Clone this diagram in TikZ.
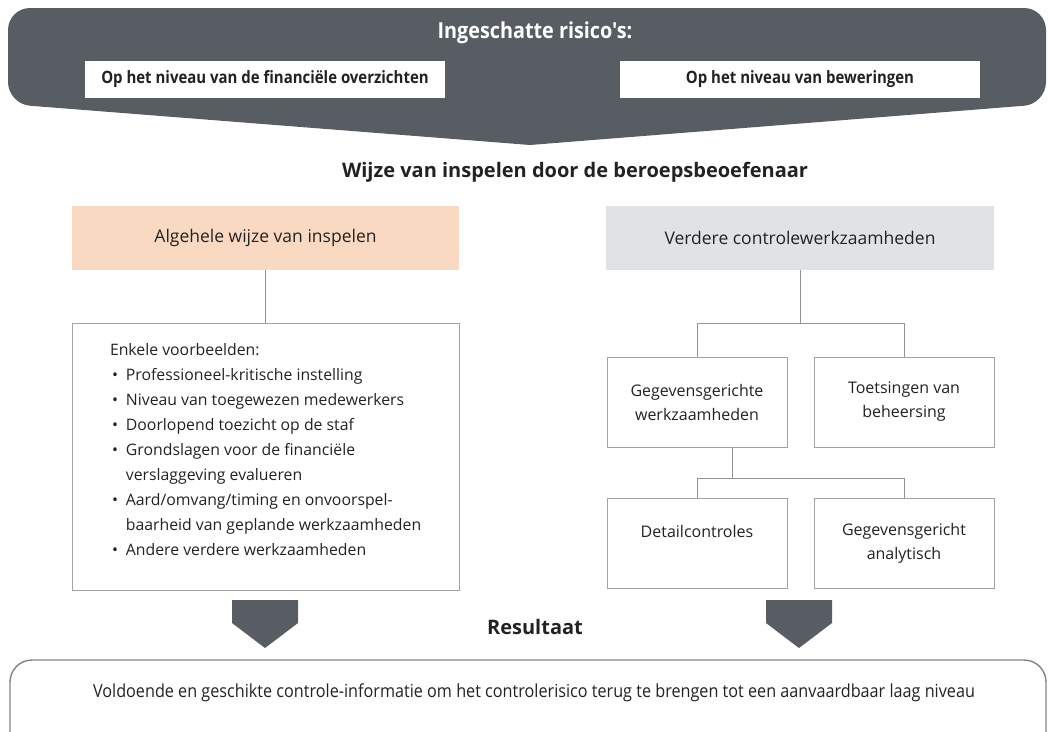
\documentclass[tikz,border=0pt]{standalone}
\usepackage{fontspec}
\setmainfont{Open Sans}
\newfontfamily\condfont[FakeStretch=0.88]{Open Sans}
\newfontfamily\widecond[FakeStretch=0.9]{Open Sans}
\usetikzlibrary{calc}
\definecolor{bannergray}{HTML}{585D64}
\definecolor{peach}{HTML}{FAD9C2}
\definecolor{lightgray}{HTML}{E1E2E4}
\definecolor{boxline}{HTML}{A3A3A3}
\definecolor{txt}{HTML}{222222}
\begin{document}
\begin{tikzpicture}[x=1pt,y=-1pt,
  every node/.style={inner sep=0pt, outer sep=0pt, text=txt},
  whitebox/.style={fill=white, minimum width=360pt, minimum height=37pt, font=\condfont\bfseries\fontsize{17}{19}\selectfont},
  headbox/.style={minimum width=387pt, minimum height=64pt, font=\fontsize{17.5}{20}\selectfont},
  plainbox/.style={draw=boxline, line width=0.8pt, fill=white, minimum width=180pt, minimum height=90pt, align=center, font=\fontsize{16}{24}\selectfont},
  conn/.style={draw=boxline!90!black, line width=0.8pt},
  downarrow/.style={fill=bannergray}]
\useasboundingbox (0,0) rectangle (1049,731);
\clip (0,0) rectangle (1049,731);
% top banner
\fill[bannergray] (530,145) [rounded corners=22] -- (8,104) -- (8,8) -- (1046,8) -- (1046,104) [sharp corners] -- cycle;
\node[text=white, font=\widecond\bfseries\fontsize{22}{24}\selectfont] (title) at (535,33) {Ingeschatte risico's:};
\node[whitebox] (fin) at (265,79) {Op het niveau van de financiële overzichten};
\node[whitebox] (bew) at (800,79) {Op het niveau van beweringen};
% middle heading
\node[font=\bfseries\fontsize{20}{22}\selectfont] (wijze) at (575,172) {Wijze van inspelen door de beroepsbeoefenaar};
% headers
\node[headbox, fill=peach] (lh) at (265.5,238) {Algehele wijze van inspelen};
\node[headbox, fill=lightgray, minimum width=388pt] (rh) at (800,238) {Verdere controlewerkzaamheden};
% left box
\node[draw=boxline, line width=0.8pt, minimum width=387pt, minimum height=267pt] (lb) at (265.5,456.5) {};
\node[anchor=north west, align=left, font=\fontsize{15.8}{25}\selectfont] (list) at (110,338) {%
\begin{tabular}{@{\hspace{2pt}}l@{\hspace{8pt}}l@{}}
\multicolumn{2}{@{}l}{Enkele voorbeelden:}\\
• & Professioneel-kritische instelling\\
• & Niveau van toegewezen medewerkers\\
• & Doorlopend toezicht op de staf\\
• & Grondslagen voor de financiële\\
  & verslaggeving evalueren\\
• & Aard/omvang/timing en onvoorspel-\\
  & baarheid van geplande werkzaamheden\\
• & Andere verdere werkzaamheden
\end{tabular}};
\draw[conn] (lh.south) -- (lb.north);
% right boxes
\node[plainbox] (gw) at (697,402) {Gegevensgerichte\\werkzaamheden};
\node[plainbox] (tb) at (904,402) {Toetsingen van\\beheersing};
\node[plainbox] (dc) at (697,543) {Detailcontroles\\\phantom{x}};
\node[plainbox] (ga) at (904,543) {Gegevensgericht\\analytisch};
\coordinate (rj) at ($(rh.south)+(0,53)$);
\draw[conn] (rh.south) -- (rj) -| (gw.north);
\draw[conn] (rj) -| (tb.north);
\coordinate (gs) at ($(gw.south)+(35,0)$);
\coordinate (gj) at ($(gs)+(0,31)$);
\draw[conn] (gs) -- (gj) -| (dc.north);
\draw[conn] (gj) -| (ga.north);
% down arrows
\fill[downarrow] (232,600) -- (298,600) -- (298,623) -- (265,648) -- (232,623) -- cycle;
\fill[downarrow] (766,600) -- (832,600) -- (832,623) -- (799,648) -- (766,623) -- cycle;
\node[font=\bfseries\fontsize{20}{22}\selectfont] (res) at (535,627) {Resultaat};
% bottom box
\draw[boxline!80!black, line width=1.4pt, rounded corners=22] (10,660) rectangle (1046,760);
\node[font=\widecond\fontsize{18}{20}\selectfont] (result) at (534,693) {Voldoende en geschikte controle-informatie om het controlerisico terug te brengen tot een aanvaardbaar laag niveau};
\end{tikzpicture}
\end{document}
